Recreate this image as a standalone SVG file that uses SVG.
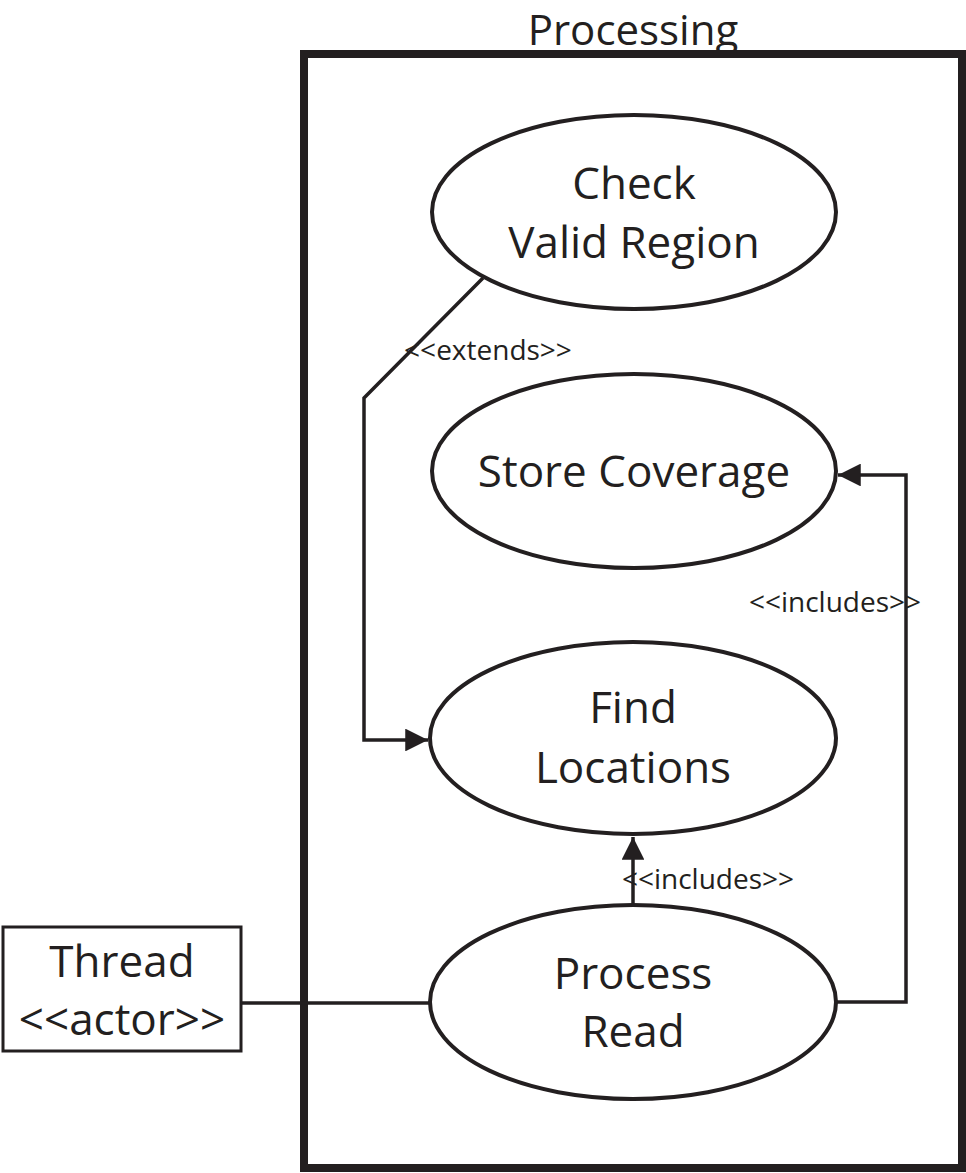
<svg xmlns="http://www.w3.org/2000/svg" width="966" height="1173" viewBox="0 0 966 1173">
<style>
.uc{fill:#fff;stroke:#231f20;stroke-width:4}
.t{font-family:"Open Sans","Liberation Sans",sans-serif;fill:#231f20;text-anchor:middle}
.big{font-size:44px;font-weight:500}
.lbl{font-size:28px}
.c{fill:none;stroke:#231f20;stroke-width:3.5}
</style>
<defs>
<marker id="ah" viewBox="0 0 10 10" refX="10" refY="5" markerWidth="6.5" markerHeight="6.5" orient="auto" markerUnits="strokeWidth"><path d="M0,0 L10,5 L0,10 z" fill="#231f20"/></marker>
</defs>
<rect width="966" height="1173" fill="#fff"/>
<g id="system">
<rect x="304" y="54" width="658" height="1114" fill="none" stroke="#231f20" stroke-width="8"/>
<text class="t" x="633" y="45" style="font-size:42px;font-weight:500">Processing</text>
</g>
<g id="connectors">
<polyline class="c" points="483,278 364,398 364,740 428,740" marker-end="url(#ah)"/>
<polyline class="c" points="836,1002 906,1002 906,475 838,475" marker-end="url(#ah)"/>
<line class="c" x1="633" y1="905" x2="633" y2="837" marker-end="url(#ah)"/>
<line class="c" x1="242" y1="1003" x2="431" y2="1003"/>
<text class="t lbl" x="488" y="360">&lt;&lt;extends&gt;&gt;</text>
<text class="t lbl" x="835" y="612">&lt;&lt;includes&gt;&gt;</text>
<text class="t lbl" x="708" y="889">&lt;&lt;includes&gt;&gt;</text>
</g>
<g id="check">
<ellipse class="uc" cx="634" cy="212" rx="202" ry="97"/>
<text class="t big" x="634" y="199">Check</text>
<text class="t big" x="634" y="258">Valid Region</text>
</g>
<g id="store">
<ellipse class="uc" cx="634" cy="471" rx="202" ry="97"/>
<text class="t big" x="634" y="487">Store Coverage</text>
</g>
<g id="find">
<ellipse class="uc" cx="633" cy="738" rx="203" ry="96"/>
<text class="t big" x="633" y="723">Find</text>
<text class="t big" x="633" y="783">Locations</text>
</g>
<g id="process">
<ellipse class="uc" cx="633" cy="1002" rx="203" ry="97"/>
<text class="t big" x="633" y="989">Process</text>
<text class="t big" x="633" y="1047">Read</text>
</g>
<g id="thread">
<rect x="3" y="927" width="238" height="124" fill="#fff" stroke="#231f20" stroke-width="3"/>
<text class="t big" x="122" y="977">Thread</text>
<text class="t big" x="122" y="1035">&lt;&lt;actor&gt;&gt;</text>
</g>
</svg>
